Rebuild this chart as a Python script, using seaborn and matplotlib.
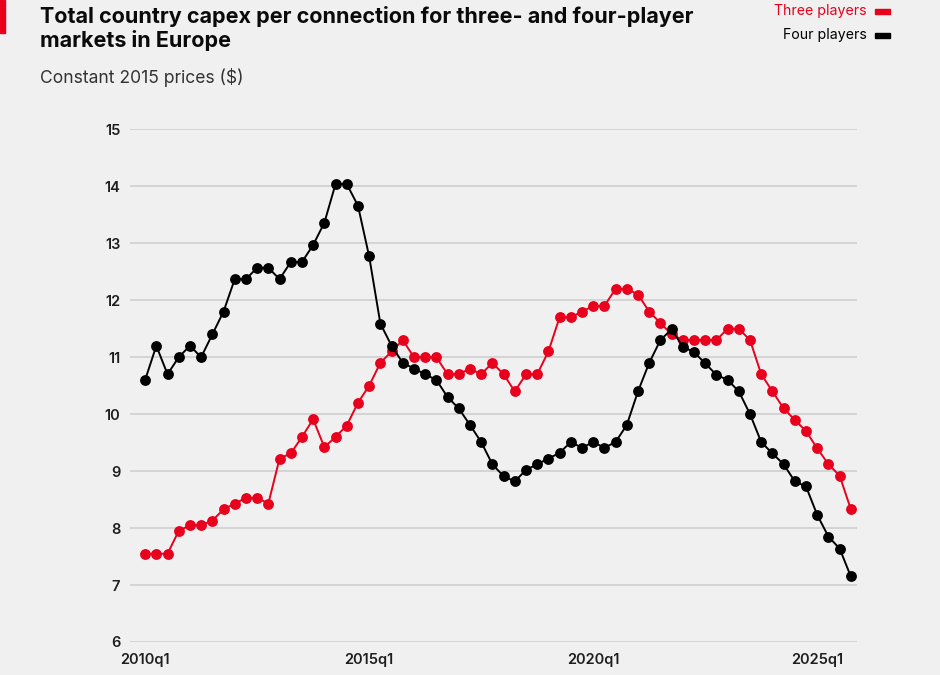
import matplotlib
matplotlib.use("Agg")
import matplotlib.pyplot as plt
import seaborn as sns
import pandas as pd
import numpy as np

quarters = [f"{y}q{q}" for y in range(2010, 2026) for q in range(1, 5)]

three_players = [7.55, 7.55, 7.55, 7.95, 8.05, 8.05, 8.13, 8.33, 8.43, 8.53,
                 8.53, 8.43, 9.22, 9.31, 9.6, 9.91, 9.42, 9.6, 9.8, 10.2,
                 10.5, 10.9, 11.1, 11.3, 11.0, 11.0, 11.0, 10.7, 10.7, 10.8,
                 10.7, 10.9, 10.7, 10.4, 10.7, 10.7, 11.1, 11.7, 11.7, 11.8,
                 11.9, 11.9, 12.2, 12.2, 12.1, 11.8, 11.6, 11.4, 11.3, 11.3,
                 11.3, 11.3, 11.5, 11.5, 11.3, 10.7, 10.4, 10.1, 9.9, 9.7,
                 9.4, 9.12, 8.92, 8.33]

four_players = [10.6, 11.2, 10.7, 11.0, 11.2, 11.0, 11.4, 11.8, 12.37, 12.37,
                12.57, 12.57, 12.37, 12.67, 12.67, 12.97, 13.36, 14.04, 14.04, 13.66,
                12.77, 11.59, 11.2, 10.9, 10.8, 10.7, 10.6, 10.3, 10.1, 9.81,
                9.51, 9.12, 8.91, 8.82, 9.02, 9.12, 9.22, 9.32, 9.51, 9.41,
                9.51, 9.41, 9.51, 9.81, 10.4, 10.9, 11.3, 11.49, 11.18, 11.09,
                10.89, 10.69, 10.6, 10.4, 10.0, 9.51, 9.31, 9.12, 8.82, 8.73,
                8.23, 7.85, 7.64, 7.15]

series_names = ["Three players", "Four players"]
series_colors = ["#e8001c", "#000000"]
tick_labels = ["2010q1", "2015q1", "2020q1", "2025q1"]
y_ticks = [6, 7, 8, 9, 10, 11, 12, 13, 14, 15]

df = pd.DataFrame({
    "quarter": quarters * 2,
    "idx": list(range(len(quarters))) * 2,
    "value": three_players + four_players,
    "series": [series_names[0]] * len(quarters) + [series_names[1]] * len(quarters),
})

sns.set_theme(style="white")
plt.rcParams["font.family"] = ["Inter", "DejaVu Sans"]

BG = "#f0f0f0"
fig = plt.figure(figsize=(9.4, 6.75), dpi=100, facecolor=BG)
ax = fig.add_axes([0.1383, 0.0489, 0.7734, 0.7595])
ax.set_facecolor(BG)

sns.lineplot(data=df, x="idx", y="value", hue="series",
             hue_order=series_names, palette=series_colors,
             marker="o", markersize=7.8, markeredgewidth=0,
             linewidth=1.4, legend=False, ax=ax, clip_on=False)

ax.set_xlim(-1.35, 63.55)
ax.set_ylim(6, 15)
ax.set_yticks(y_ticks)
ax.set_yticklabels([str(t) for t in y_ticks])
tick_pos = [quarters.index(t) for t in tick_labels]
ax.set_xticks(tick_pos)
ax.set_xticklabels(tick_labels)
ax.set_xlabel("")
ax.set_ylabel("")
ax.grid(axis="y", color="#d2d2d2", linewidth=1.3)
ax.grid(axis="x", visible=False)
ax.set_axisbelow(True)
for s in ax.spines.values():
    s.set_visible(False)
ax.tick_params(axis="y", length=0, pad=7, labelsize=10.5, labelcolor="#1e1e1e")
ax.tick_params(axis="x", length=0, pad=8, labelsize=10.5, labelcolor="#1e1e1e")
for lab in ax.get_xticklabels() + ax.get_yticklabels():
    lab.set_fontweight("semibold")

# title & subtitle
fig.text(40 / 940, 1 - 47 / 675, "Total country capex per connection for three- and four-player\nmarkets in Europe",
         ha="left", va="baseline", fontsize=15.5, fontweight="bold", color="#0a0a0a",
         linespacing=1.2)
fig.text(40 / 940, 1 - 83 / 675, "Constant 2015 prices ($)", ha="left", va="baseline",
         fontsize=12.6, color="#333333")

# red accent bar
fig.patches.append(matplotlib.patches.Rectangle((0, 1 - 33 / 675), 5 / 940, 33 / 675,
                                                transform=fig.transFigure, color="#e8001c",
                                                zorder=5))

# legend
leg_y = [11.5, 35.5]
for name, col, yy in zip(series_names, series_colors, leg_y):
    fig.text(867 / 940, 1 - yy / 675, name, ha="right", va="center", fontsize=10.2,
             color=col)
    fig.patches.append(matplotlib.patches.Rectangle((875 / 940, 1 - (yy + 2.3) / 675),
                                                    15 / 940, 4.6 / 675,
                                                    transform=fig.transFigure, color=col))

fig.savefig("out.png", dpi=100, facecolor=BG)
